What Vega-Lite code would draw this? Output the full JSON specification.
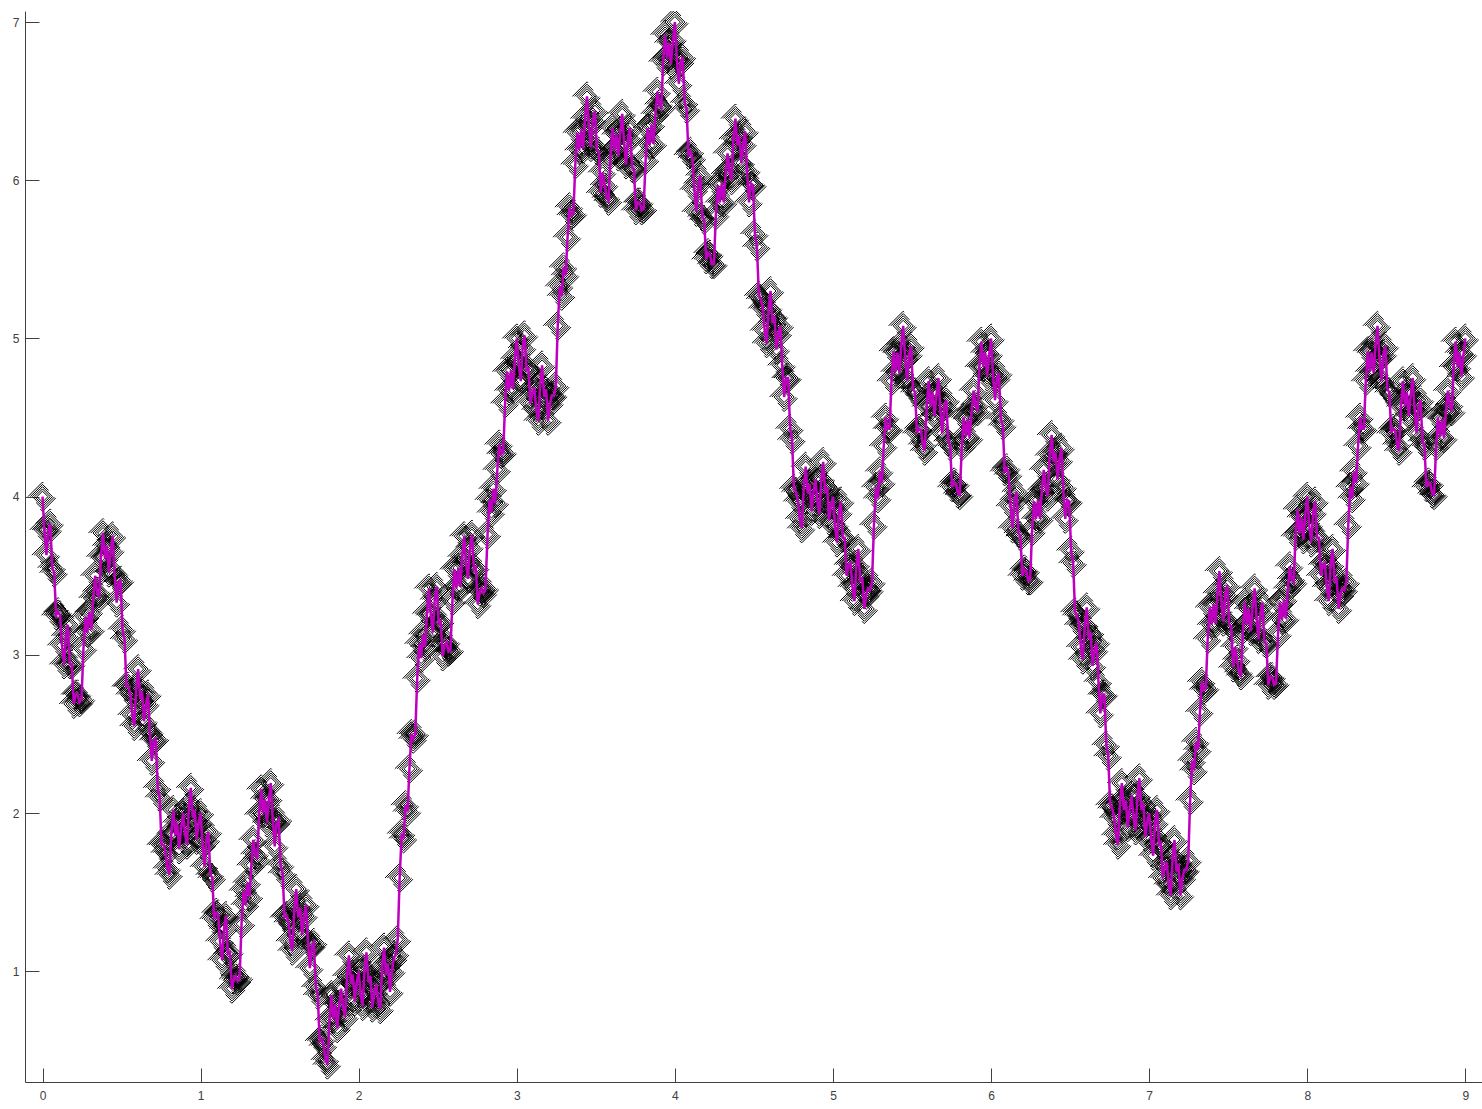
{"$schema":"https://vega.github.io/schema/vega-lite/v6.json","width":1457,"height":1071,"autosize":{"type":"none"},"padding":{"left":25,"top":11,"right":0,"bottom":27},"background":"white","config":{"view":{"stroke":null}},
"data":{"values":[
{"x":0,"y":4},{"x":0.012,"y":3.79},{"x":0.025,"y":3.63},{"x":0.037,"y":3.79},{"x":0.049,"y":3.83},{"x":0.062,"y":3.55},{"x":0.074,"y":3.52},{"x":0.086,"y":3.25},{"x":0.099,"y":3.27},
{"x":0.111,"y":3.25},{"x":0.123,"y":3.06},{"x":0.136,"y":2.94},{"x":0.148,"y":3.12},{"x":0.160,"y":3.19},{"x":0.173,"y":2.94},{"x":0.185,"y":2.94},{"x":0.198,"y":2.69},{"x":0.210,"y":2.75},
{"x":0.222,"y":2.75},{"x":0.234,"y":2.70},{"x":0.247,"y":2.72},{"x":0.259,"y":3.04},{"x":0.272,"y":3.24},{"x":0.284,"y":3.14},{"x":0.296,"y":3.27},{"x":0.309,"y":3.16},{"x":0.321,"y":3.36},
{"x":0.333,"y":3.5},{"x":0.345,"y":3.40},{"x":0.358,"y":3.36},{"x":0.370,"y":3.62},{"x":0.383,"y":3.77},{"x":0.395,"y":3.61},{"x":0.407,"y":3.69},{"x":0.420,"y":3.52},{"x":0.432,"y":3.66},
{"x":0.444,"y":3.75},{"x":0.456,"y":3.51},{"x":0.469,"y":3.33},{"x":0.481,"y":3.46},{"x":0.494,"y":3.47},{"x":0.506,"y":3.16},{"x":0.519,"y":3.10},{"x":0.531,"y":2.80},{"x":0.543,"y":2.80},
{"x":0.556,"y":2.75},{"x":0.568,"y":2.62},{"x":0.580,"y":2.55},{"x":0.593,"y":2.79},{"x":0.605,"y":2.91},{"x":0.618,"y":2.72},{"x":0.630,"y":2.77},{"x":0.642,"y":2.58},{"x":0.655,"y":2.69},
{"x":0.667,"y":2.75},{"x":0.679,"y":2.51},{"x":0.691,"y":2.33},{"x":0.704,"y":2.46},{"x":0.716,"y":2.47},{"x":0.729,"y":2.16},{"x":0.741,"y":2.10},{"x":0.753,"y":1.80},{"x":0.766,"y":1.80},
{"x":0.778,"y":1.75},{"x":0.790,"y":1.65},{"x":0.802,"y":1.61},{"x":0.815,"y":1.87},{"x":0.827,"y":2.02},{"x":0.840,"y":1.86},{"x":0.852,"y":1.94},{"x":0.864,"y":1.77},{"x":0.877,"y":1.91},
{"x":0.889,"y":2},{"x":0.901,"y":1.87},{"x":0.914,"y":1.80},{"x":0.926,"y":2.04},{"x":0.938,"y":2.16},{"x":0.951,"y":1.97},{"x":0.963,"y":2.02},{"x":0.975,"y":1.83},{"x":0.988,"y":1.94},
{"x":1,"y":2},{"x":1.012,"y":1.80},{"x":1.025,"y":1.66},{"x":1.037,"y":1.83},{"x":1.049,"y":1.88},{"x":1.062,"y":1.61},{"x":1.074,"y":1.59},{"x":1.086,"y":1.33},{"x":1.099,"y":1.37},
{"x":1.111,"y":1.36},{"x":1.123,"y":1.19},{"x":1.136,"y":1.07},{"x":1.148,"y":1.27},{"x":1.160,"y":1.35},{"x":1.173,"y":1.11},{"x":1.185,"y":1.12},{"x":1.198,"y":0.89},{"x":1.210,"y":0.95},
{"x":1.222,"y":0.97},{"x":1.234,"y":0.94},{"x":1.247,"y":0.96},{"x":1.259,"y":1.30},{"x":1.272,"y":1.51},{"x":1.284,"y":1.42},{"x":1.296,"y":1.56},{"x":1.309,"y":1.47},{"x":1.321,"y":1.67},
{"x":1.333,"y":1.83},{"x":1.345,"y":1.74},{"x":1.358,"y":1.71},{"x":1.370,"y":1.99},{"x":1.383,"y":2.15},{"x":1.395,"y":2.00},{"x":1.407,"y":2.09},{"x":1.420,"y":1.94},{"x":1.432,"y":2.09},
{"x":1.444,"y":2.19},{"x":1.456,"y":1.96},{"x":1.469,"y":1.79},{"x":1.481,"y":1.94},{"x":1.494,"y":1.96},{"x":1.506,"y":1.67},{"x":1.519,"y":1.62},{"x":1.531,"y":1.34},{"x":1.543,"y":1.35},
{"x":1.556,"y":1.31},{"x":1.568,"y":1.19},{"x":1.580,"y":1.13},{"x":1.593,"y":1.39},{"x":1.605,"y":1.52},{"x":1.618,"y":1.34},{"x":1.630,"y":1.40},{"x":1.642,"y":1.23},{"x":1.655,"y":1.35},
{"x":1.667,"y":1.42},{"x":1.679,"y":1.19},{"x":1.691,"y":1.02},{"x":1.704,"y":1.16},{"x":1.716,"y":1.18},{"x":1.729,"y":0.90},{"x":1.741,"y":0.85},{"x":1.753,"y":0.56},{"x":1.766,"y":0.57},
{"x":1.778,"y":0.53},{"x":1.790,"y":0.44},{"x":1.802,"y":0.41},{"x":1.815,"y":0.69},{"x":1.827,"y":0.85},{"x":1.840,"y":0.70},{"x":1.852,"y":0.79},{"x":1.864,"y":0.64},{"x":1.877,"y":0.79},
{"x":1.889,"y":0.89},{"x":1.901,"y":0.77},{"x":1.914,"y":0.71},{"x":1.926,"y":0.97},{"x":1.938,"y":1.10},{"x":1.951,"y":0.92},{"x":1.963,"y":0.98},{"x":1.975,"y":0.81},{"x":1.988,"y":0.93},
{"x":2,"y":1},{"x":2.012,"y":0.86},{"x":2.025,"y":0.78},{"x":2.037,"y":1.01},{"x":2.049,"y":1.12},{"x":2.062,"y":0.93},{"x":2.074,"y":0.97},{"x":2.086,"y":0.77},{"x":2.099,"y":0.87},
{"x":2.111,"y":0.92},{"x":2.123,"y":0.81},{"x":2.136,"y":0.76},{"x":2.148,"y":1.01},{"x":2.160,"y":1.15},{"x":2.173,"y":0.98},{"x":2.185,"y":1.05},{"x":2.198,"y":0.87},{"x":2.210,"y":1.00},
{"x":2.222,"y":1.08},{"x":2.234,"y":1.11},{"x":2.247,"y":1.20},{"x":2.259,"y":1.59},{"x":2.272,"y":1.87},{"x":2.284,"y":1.84},{"x":2.296,"y":2.05},{"x":2.309,"y":2.01},{"x":2.321,"y":2.28},
{"x":2.333,"y":2.5},{"x":2.345,"y":2.47},{"x":2.358,"y":2.50},{"x":2.370,"y":2.85},{"x":2.383,"y":3.07},{"x":2.395,"y":2.98},{"x":2.407,"y":3.13},{"x":2.420,"y":3.05},{"x":2.432,"y":3.26},
{"x":2.444,"y":3.42},{"x":2.456,"y":3.25},{"x":2.469,"y":3.14},{"x":2.481,"y":3.35},{"x":2.494,"y":3.43},{"x":2.506,"y":3.20},{"x":2.519,"y":3.21},{"x":2.531,"y":2.99},{"x":2.543,"y":3.06},
{"x":2.556,"y":3.08},{"x":2.568,"y":3.02},{"x":2.580,"y":3.03},{"x":2.593,"y":3.34},{"x":2.605,"y":3.54},{"x":2.618,"y":3.42},{"x":2.630,"y":3.55},{"x":2.642,"y":3.43},{"x":2.655,"y":3.62},
{"x":2.667,"y":3.75},{"x":2.679,"y":3.58},{"x":2.691,"y":3.48},{"x":2.704,"y":3.68},{"x":2.716,"y":3.76},{"x":2.729,"y":3.54},{"x":2.741,"y":3.55},{"x":2.753,"y":3.32},{"x":2.766,"y":3.40},
{"x":2.778,"y":3.42},{"x":2.790,"y":3.39},{"x":2.802,"y":3.42},{"x":2.815,"y":3.76},{"x":2.827,"y":3.98},{"x":2.840,"y":3.90},{"x":2.852,"y":4.05},{"x":2.864,"y":3.96},{"x":2.877,"y":4.17},
{"x":2.889,"y":4.33},{"x":2.901,"y":4.27},{"x":2.914,"y":4.28},{"x":2.926,"y":4.59},{"x":2.938,"y":4.79},{"x":2.951,"y":4.67},{"x":2.963,"y":4.80},{"x":2.975,"y":4.68},{"x":2.988,"y":4.87},
{"x":3,"y":5},{"x":3.012,"y":4.84},{"x":3.025,"y":4.73},{"x":3.037,"y":4.94},{"x":3.049,"y":5.02},{"x":3.062,"y":4.80},{"x":3.074,"y":4.81},{"x":3.086,"y":4.59},{"x":3.099,"y":4.66},
{"x":3.111,"y":4.69},{"x":3.123,"y":4.55},{"x":3.136,"y":4.48},{"x":3.148,"y":4.71},{"x":3.160,"y":4.83},{"x":3.173,"y":4.63},{"x":3.185,"y":4.68},{"x":3.198,"y":4.48},{"x":3.210,"y":4.59},
{"x":3.222,"y":4.64},{"x":3.234,"y":4.64},{"x":3.247,"y":4.70},{"x":3.259,"y":5.08},{"x":3.272,"y":5.33},{"x":3.284,"y":5.27},{"x":3.296,"y":5.45},{"x":3.309,"y":5.40},{"x":3.321,"y":5.64},
{"x":3.333,"y":5.83},{"x":3.345,"y":5.78},{"x":3.358,"y":5.79},{"x":3.370,"y":6.10},{"x":3.383,"y":6.30},{"x":3.395,"y":6.19},{"x":3.407,"y":6.32},{"x":3.420,"y":6.20},{"x":3.432,"y":6.39},
{"x":3.444,"y":6.53},{"x":3.456,"y":6.34},{"x":3.469,"y":6.21},{"x":3.481,"y":6.38},{"x":3.494,"y":6.44},{"x":3.506,"y":6.19},{"x":3.519,"y":6.18},{"x":3.531,"y":5.92},{"x":3.543,"y":6.05},
{"x":3.556,"y":5.97},{"x":3.568,"y":5.89},{"x":3.580,"y":5.87},{"x":3.593,"y":6.16},{"x":3.605,"y":6.33},{"x":3.618,"y":6.19},{"x":3.630,"y":6.29},{"x":3.642,"y":6.15},{"x":3.655,"y":6.31},
{"x":3.667,"y":6.42},{"x":3.679,"y":6.23},{"x":3.691,"y":6.10},{"x":3.704,"y":6.27},{"x":3.716,"y":6.33},{"x":3.729,"y":6.08},{"x":3.741,"y":6.07},{"x":3.753,"y":5.81},{"x":3.766,"y":5.86},
{"x":3.778,"y":5.86},{"x":3.790,"y":5.81},{"x":3.802,"y":5.82},{"x":3.815,"y":6.13},{"x":3.827,"y":6.33},{"x":3.840,"y":6.22},{"x":3.852,"y":6.35},{"x":3.864,"y":6.23},{"x":3.877,"y":6.42},
{"x":3.889,"y":6.56},{"x":3.901,"y":6.48},{"x":3.914,"y":6.46},{"x":3.926,"y":6.75},{"x":3.938,"y":6.92},{"x":3.951,"y":6.77},{"x":3.963,"y":6.87},{"x":3.975,"y":6.73},{"x":3.988,"y":6.89},
{"x":4,"y":7},{"x":4.012,"y":6.77},{"x":4.025,"y":6.61},{"x":4.037,"y":6.75},{"x":4.049,"y":6.78},{"x":4.062,"y":6.49},{"x":4.074,"y":6.45},{"x":4.086,"y":6.16},{"x":4.099,"y":6.18},
{"x":4.111,"y":6.14},{"x":4.123,"y":5.94},{"x":4.136,"y":5.80},{"x":4.148,"y":5.98},{"x":4.160,"y":6.03},{"x":4.173,"y":5.77},{"x":4.185,"y":5.75},{"x":4.198,"y":5.50},{"x":4.210,"y":5.54},
{"x":4.222,"y":5.53},{"x":4.234,"y":5.47},{"x":4.247,"y":5.47},{"x":4.259,"y":5.78},{"x":4.272,"y":5.97},{"x":4.284,"y":5.86},{"x":4.296,"y":5.98},{"x":4.309,"y":5.86},{"x":4.321,"y":6.04},
{"x":4.333,"y":6.17},{"x":4.345,"y":6.06},{"x":4.358,"y":6.00},{"x":4.370,"y":6.26},{"x":4.383,"y":6.39},{"x":4.395,"y":6.22},{"x":4.407,"y":6.28},{"x":4.420,"y":6.11},{"x":4.432,"y":6.23},
{"x":4.444,"y":6.31},{"x":4.456,"y":6.06},{"x":4.469,"y":5.86},{"x":4.481,"y":5.98},{"x":4.494,"y":5.97},{"x":4.506,"y":5.66},{"x":4.519,"y":5.58},{"x":4.531,"y":5.27},{"x":4.543,"y":5.25},
{"x":4.556,"y":5.19},{"x":4.568,"y":5.05},{"x":4.580,"y":4.97},{"x":4.593,"y":5.19},{"x":4.605,"y":5.30},{"x":4.618,"y":5.10},{"x":4.630,"y":5.14},{"x":4.642,"y":4.93},{"x":4.655,"y":5.03},
{"x":4.667,"y":5.08},{"x":4.679,"y":4.83},{"x":4.691,"y":4.63},{"x":4.704,"y":4.75},{"x":4.716,"y":4.75},{"x":4.729,"y":4.43},{"x":4.741,"y":4.36},{"x":4.753,"y":4.05},{"x":4.766,"y":4.03},
{"x":4.778,"y":3.97},{"x":4.790,"y":3.86},{"x":4.802,"y":3.80},{"x":4.815,"y":4.06},{"x":4.827,"y":4.19},{"x":4.840,"y":4.02},{"x":4.852,"y":4.08},{"x":4.864,"y":3.91},{"x":4.877,"y":4.03},
{"x":4.889,"y":4.11},{"x":4.901,"y":3.97},{"x":4.914,"y":3.89},{"x":4.926,"y":4.11},{"x":4.938,"y":4.22},{"x":4.951,"y":4.02},{"x":4.963,"y":4.06},{"x":4.975,"y":3.85},{"x":4.988,"y":3.95},
{"x":5,"y":4},{"x":5.012,"y":3.82},{"x":5.025,"y":3.71},{"x":5.037,"y":3.90},{"x":5.049,"y":3.97},{"x":5.062,"y":3.74},{"x":5.074,"y":3.74},{"x":5.086,"y":3.50},{"x":5.099,"y":3.57},
{"x":5.111,"y":3.58},{"x":5.123,"y":3.43},{"x":5.136,"y":3.34},{"x":5.148,"y":3.57},{"x":5.160,"y":3.67},{"x":5.173,"y":3.46},{"x":5.185,"y":3.49},{"x":5.198,"y":3.29},{"x":5.210,"y":3.38},
{"x":5.222,"y":3.42},{"x":5.234,"y":3.41},{"x":5.247,"y":3.46},{"x":5.259,"y":3.82},{"x":5.272,"y":4.06},{"x":5.284,"y":3.99},{"x":5.296,"y":4.16},{"x":5.309,"y":4.09},{"x":5.321,"y":4.32},
{"x":5.333,"y":4.5},{"x":5.345,"y":4.43},{"x":5.358,"y":4.43},{"x":5.370,"y":4.73},{"x":5.383,"y":4.92},{"x":5.395,"y":4.79},{"x":5.407,"y":4.91},{"x":5.420,"y":4.78},{"x":5.432,"y":4.96},
{"x":5.444,"y":5.08},{"x":5.456,"y":4.88},{"x":5.469,"y":4.73},{"x":5.481,"y":4.90},{"x":5.494,"y":4.95},{"x":5.506,"y":4.68},{"x":5.519,"y":4.66},{"x":5.531,"y":4.40},{"x":5.543,"y":4.43},
{"x":5.556,"y":4.42},{"x":5.568,"y":4.33},{"x":5.580,"y":4.29},{"x":5.593,"y":4.57},{"x":5.605,"y":4.73},{"x":5.618,"y":4.57},{"x":5.630,"y":4.66},{"x":5.642,"y":4.51},{"x":5.655,"y":4.65},
{"x":5.667,"y":4.75},{"x":5.679,"y":4.55},{"x":5.691,"y":4.40},{"x":5.704,"y":4.57},{"x":5.716,"y":4.61},{"x":5.729,"y":4.35},{"x":5.741,"y":4.32},{"x":5.753,"y":4.06},{"x":5.766,"y":4.09},
{"x":5.778,"y":4.08},{"x":5.790,"y":4.02},{"x":5.802,"y":4.01},{"x":5.815,"y":4.32},{"x":5.827,"y":4.50},{"x":5.840,"y":4.38},{"x":5.852,"y":4.49},{"x":5.864,"y":4.37},{"x":5.877,"y":4.54},
{"x":5.889,"y":4.67},{"x":5.901,"y":4.58},{"x":5.914,"y":4.54},{"x":5.926,"y":4.82},{"x":5.938,"y":4.98},{"x":5.951,"y":4.82},{"x":5.963,"y":4.91},{"x":5.975,"y":4.76},{"x":5.988,"y":4.90},
{"x":6,"y":5},{"x":6.012,"y":4.77},{"x":6.025,"y":4.61},{"x":6.037,"y":4.75},{"x":6.049,"y":4.78},{"x":6.062,"y":4.49},{"x":6.074,"y":4.45},{"x":6.086,"y":4.16},{"x":6.099,"y":4.18},
{"x":6.111,"y":4.14},{"x":6.123,"y":3.94},{"x":6.136,"y":3.80},{"x":6.148,"y":3.98},{"x":6.160,"y":4.03},{"x":6.173,"y":3.77},{"x":6.185,"y":3.75},{"x":6.198,"y":3.50},{"x":6.210,"y":3.54},
{"x":6.222,"y":3.53},{"x":6.234,"y":3.47},{"x":6.247,"y":3.47},{"x":6.259,"y":3.78},{"x":6.272,"y":3.97},{"x":6.284,"y":3.86},{"x":6.296,"y":3.98},{"x":6.309,"y":3.86},{"x":6.321,"y":4.04},
{"x":6.333,"y":4.17},{"x":6.345,"y":4.06},{"x":6.358,"y":4.00},{"x":6.370,"y":4.26},{"x":6.383,"y":4.39},{"x":6.395,"y":4.22},{"x":6.407,"y":4.28},{"x":6.420,"y":4.11},{"x":6.432,"y":4.23},
{"x":6.444,"y":4.31},{"x":6.456,"y":4.06},{"x":6.469,"y":3.86},{"x":6.481,"y":3.98},{"x":6.494,"y":3.97},{"x":6.506,"y":3.66},{"x":6.519,"y":3.58},{"x":6.531,"y":3.27},{"x":6.543,"y":3.25},
{"x":6.556,"y":3.19},{"x":6.568,"y":3.05},{"x":6.580,"y":2.97},{"x":6.593,"y":3.19},{"x":6.605,"y":3.30},{"x":6.618,"y":3.10},{"x":6.630,"y":3.14},{"x":6.642,"y":2.93},{"x":6.655,"y":3.03},
{"x":6.667,"y":3.08},{"x":6.679,"y":2.83},{"x":6.691,"y":2.63},{"x":6.704,"y":2.75},{"x":6.716,"y":2.75},{"x":6.729,"y":2.43},{"x":6.741,"y":2.36},{"x":6.753,"y":2.05},{"x":6.766,"y":2.03},
{"x":6.778,"y":1.97},{"x":6.790,"y":1.86},{"x":6.802,"y":1.80},{"x":6.815,"y":2.06},{"x":6.827,"y":2.19},{"x":6.840,"y":2.02},{"x":6.852,"y":2.08},{"x":6.864,"y":1.91},{"x":6.877,"y":2.03},
{"x":6.889,"y":2.11},{"x":6.901,"y":1.97},{"x":6.914,"y":1.89},{"x":6.926,"y":2.11},{"x":6.938,"y":2.22},{"x":6.951,"y":2.02},{"x":6.963,"y":2.06},{"x":6.975,"y":1.85},{"x":6.988,"y":1.95},
{"x":7,"y":2},{"x":7.012,"y":1.84},{"x":7.025,"y":1.73},{"x":7.037,"y":1.94},{"x":7.049,"y":2.02},{"x":7.062,"y":1.80},{"x":7.074,"y":1.81},{"x":7.086,"y":1.59},{"x":7.099,"y":1.66},
{"x":7.111,"y":1.69},{"x":7.123,"y":1.55},{"x":7.136,"y":1.48},{"x":7.148,"y":1.71},{"x":7.160,"y":1.83},{"x":7.173,"y":1.63},{"x":7.185,"y":1.68},{"x":7.198,"y":1.48},{"x":7.210,"y":1.59},
{"x":7.222,"y":1.64},{"x":7.234,"y":1.64},{"x":7.247,"y":1.70},{"x":7.259,"y":2.08},{"x":7.272,"y":2.33},{"x":7.284,"y":2.27},{"x":7.296,"y":2.45},{"x":7.309,"y":2.40},{"x":7.321,"y":2.64},
{"x":7.333,"y":2.83},{"x":7.345,"y":2.78},{"x":7.358,"y":2.79},{"x":7.370,"y":3.10},{"x":7.383,"y":3.30},{"x":7.395,"y":3.19},{"x":7.407,"y":3.32},{"x":7.420,"y":3.20},{"x":7.432,"y":3.39},
{"x":7.444,"y":3.53},{"x":7.456,"y":3.34},{"x":7.469,"y":3.21},{"x":7.481,"y":3.38},{"x":7.494,"y":3.44},{"x":7.506,"y":3.19},{"x":7.519,"y":3.18},{"x":7.531,"y":2.92},{"x":7.543,"y":3.05},
{"x":7.556,"y":2.97},{"x":7.568,"y":2.89},{"x":7.580,"y":2.87},{"x":7.593,"y":3.16},{"x":7.605,"y":3.33},{"x":7.618,"y":3.19},{"x":7.630,"y":3.29},{"x":7.642,"y":3.15},{"x":7.655,"y":3.31},
{"x":7.667,"y":3.42},{"x":7.679,"y":3.23},{"x":7.691,"y":3.10},{"x":7.704,"y":3.27},{"x":7.716,"y":3.33},{"x":7.729,"y":3.08},{"x":7.741,"y":3.07},{"x":7.753,"y":2.81},{"x":7.766,"y":2.86},
{"x":7.778,"y":2.86},{"x":7.790,"y":2.81},{"x":7.802,"y":2.82},{"x":7.815,"y":3.13},{"x":7.827,"y":3.33},{"x":7.840,"y":3.22},{"x":7.852,"y":3.35},{"x":7.864,"y":3.23},{"x":7.877,"y":3.42},
{"x":7.889,"y":3.56},{"x":7.901,"y":3.48},{"x":7.914,"y":3.46},{"x":7.926,"y":3.75},{"x":7.938,"y":3.92},{"x":7.951,"y":3.77},{"x":7.963,"y":3.87},{"x":7.975,"y":3.73},{"x":7.988,"y":3.89},
{"x":8,"y":4},{"x":8.012,"y":3.82},{"x":8.025,"y":3.71},{"x":8.037,"y":3.90},{"x":8.049,"y":3.97},{"x":8.062,"y":3.74},{"x":8.074,"y":3.74},{"x":8.086,"y":3.50},{"x":8.099,"y":3.57},
{"x":8.111,"y":3.58},{"x":8.123,"y":3.43},{"x":8.136,"y":3.34},{"x":8.148,"y":3.57},{"x":8.160,"y":3.67},{"x":8.173,"y":3.46},{"x":8.185,"y":3.49},{"x":8.198,"y":3.29},{"x":8.210,"y":3.38},
{"x":8.222,"y":3.42},{"x":8.234,"y":3.41},{"x":8.247,"y":3.46},{"x":8.259,"y":3.82},{"x":8.272,"y":4.06},{"x":8.284,"y":3.99},{"x":8.296,"y":4.16},{"x":8.309,"y":4.09},{"x":8.321,"y":4.32},
{"x":8.333,"y":4.5},{"x":8.345,"y":4.43},{"x":8.358,"y":4.43},{"x":8.370,"y":4.73},{"x":8.383,"y":4.92},{"x":8.395,"y":4.79},{"x":8.407,"y":4.91},{"x":8.420,"y":4.78},{"x":8.432,"y":4.96},
{"x":8.444,"y":5.08},{"x":8.456,"y":4.88},{"x":8.469,"y":4.73},{"x":8.481,"y":4.90},{"x":8.494,"y":4.95},{"x":8.506,"y":4.68},{"x":8.519,"y":4.66},{"x":8.531,"y":4.40},{"x":8.543,"y":4.43},
{"x":8.556,"y":4.42},{"x":8.568,"y":4.33},{"x":8.580,"y":4.29},{"x":8.593,"y":4.57},{"x":8.605,"y":4.73},{"x":8.618,"y":4.57},{"x":8.630,"y":4.66},{"x":8.642,"y":4.51},{"x":8.655,"y":4.65},
{"x":8.667,"y":4.75},{"x":8.679,"y":4.55},{"x":8.691,"y":4.40},{"x":8.704,"y":4.57},{"x":8.716,"y":4.61},{"x":8.729,"y":4.35},{"x":8.741,"y":4.32},{"x":8.753,"y":4.06},{"x":8.766,"y":4.09},
{"x":8.778,"y":4.08},{"x":8.790,"y":4.02},{"x":8.802,"y":4.01},{"x":8.815,"y":4.32},{"x":8.827,"y":4.50},{"x":8.840,"y":4.38},{"x":8.852,"y":4.49},{"x":8.864,"y":4.37},{"x":8.877,"y":4.54},
{"x":8.889,"y":4.67},{"x":8.901,"y":4.58},{"x":8.914,"y":4.54},{"x":8.926,"y":4.82},{"x":8.938,"y":4.98},{"x":8.951,"y":4.82},{"x":8.963,"y":4.91},{"x":8.975,"y":4.76},{"x":8.988,"y":4.90},
{"x":9,"y":5}
]},
"encoding":{
"x":{"field":"x","type":"quantitative","title":null,"scale":{"domain":[-0.1107,9.105],"nice":false,"zero":false},"axis":{"values":[0,1,2,3,4,5,6,7,8,9],"grid":false,"tickSize":-14,"labelPadding":22,"tickColor":"#404040","domainColor":"#404040","labelColor":"#404040","labelFont":"Liberation Sans","labelFontSize":12,"labelFlush":false,"labelOverlap":false}},
"y":{"field":"y","type":"quantitative","title":null,"scale":{"domain":[0.3,7.07],"nice":false,"zero":false},"axis":{"values":[1,2,3,4,5,6,7],"grid":false,"tickSize":-14,"labelPadding":20,"tickColor":"#404040","domainColor":"#404040","labelColor":"#404040","labelFont":"Liberation Sans","labelFontSize":12,"labelOverlap":false}}
},
"layer":[
{"mark":{"type":"point","shape":"diamond","filled":false,"stroke":"black","strokeWidth":1,"size":120,"clip":true,"opacity":1}},
{"mark":{"type":"point","shape":"diamond","filled":false,"stroke":"black","strokeWidth":1,"size":240,"clip":true,"opacity":1}},
{"mark":{"type":"point","shape":"diamond","filled":false,"stroke":"black","strokeWidth":1,"size":400,"clip":true,"opacity":1}},
{"mark":{"type":"point","shape":"diamond","filled":false,"stroke":"black","strokeWidth":1,"size":600,"clip":true,"opacity":1,"strokeDash":[26,9]}},
{"mark":{"type":"point","shape":"diamond","filled":false,"stroke":"black","strokeWidth":1,"size":850,"clip":true,"opacity":1,"strokeDash":[22,21]}},
{"mark":{"type":"line","stroke":"#C000C0","strokeWidth":2.5,"clip":true}}
]}
